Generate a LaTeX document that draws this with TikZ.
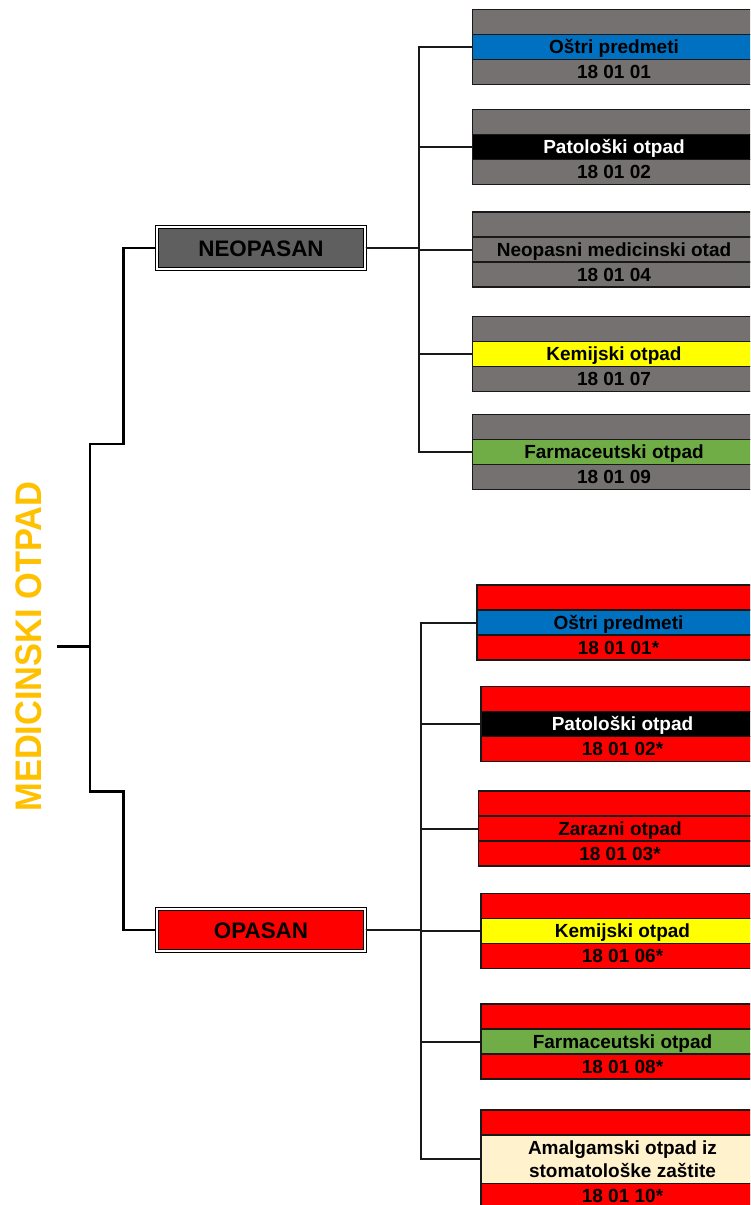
\documentclass[tikz,border=0pt]{standalone}
\usepackage{fontspec}
\setmainfont{Liberation Sans}
\usepackage{tikz}
\usetikzlibrary{positioning}

\definecolor{neogray}{RGB}{118,113,113}
\definecolor{hubgray}{RGB}{95,95,95}
\definecolor{sharpblue}{RGB}{0,112,192}
\definecolor{chemyellow}{RGB}{255,255,0}
\definecolor{pharmgreen}{RGB}{112,173,71}
\definecolor{hazred}{RGB}{255,0,0}
\definecolor{amalgcream}{RGB}{255,242,204}
\definecolor{titleorange}{RGB}{255,192,0}

\begin{document}
\begin{tikzpicture}[x=0.5pt, y=-0.5pt,
    cellbase/.style={draw=black!90, line width=0.75pt, minimum width=141.5pt, minimum height=12.5pt,
        inner sep=0pt, outer sep=0pt, font=\fontsize{9.5}{11.5}\selectfont\bfseries},
    cell/.style={cellbase, text height=6.8pt, text depth=0pt},
    group/.style={draw=black, double=white, line width=0.6pt, double distance=0.9pt,
        minimum width=104pt, minimum height=21.25pt, inner sep=0pt,
        font=\fontsize{11.2}{12}\selectfont\bfseries, text height=8pt, text depth=0pt},
    trunk/.style={line width=1.25pt, black},
    link/.style={line width=1pt, black!90}]
\useasboundingbox (0,0) rectangle (750,1205);
\clip (0,0) rectangle (750,1205);

\node[font=\fontsize{18.5}{20}\selectfont\bfseries, text=titleorange, rotate=90, inner sep=0pt]
    (title) at (28.5,646.5) {\scalebox{0.93}[1]{MEDICINSKI OTPAD}};

\node[group, fill=hubgray] (neo) at (261,248) {NEOPASAN};
\node[group, fill=hazred] (opa) at (261,930) {OPASAN};

\foreach \name/\bg/\fg/\code/\ytop [count=\i] in {
    Oštri predmeti/sharpblue/black/18 01 01/9.5,
    Patološki otpad/black/white/18 01 02/109.5,
    Neopasni medicinski otad/neogray/black/18 01 04/212,
    Kemijski otpad/chemyellow/black/18 01 07/316.5,
    Farmaceutski otpad/pharmgreen/black/18 01 09/414.5
} {
    \node[cell, fill=neogray, anchor=north west] (ntop\i) at (472.5,\ytop) {};
    \node[cell, fill=\bg, text=\fg, below=0pt of ntop\i] (nmid\i) {\name};
    \node[cell, fill=neogray, below=0pt of nmid\i] (ncode\i) {\code};
}

\foreach \name/\bg/\fg/\code/\xleft/\ytop [count=\i] in {
    Oštri predmeti/sharpblue/black/18 01 01*/477/585,
    Patološki otpad/black/white/18 01 02*/481/686.5,
    Zarazni otpad/hazred/black/18 01 03*/478.5/791,
    Kemijski otpad/chemyellow/black/18 01 06*/481/893.5,
    Farmaceutski otpad/pharmgreen/black/18 01 08*/481/1004
} {
    \node[cell, fill=hazred, anchor=north west] (otop\i) at (\xleft,\ytop) {};
    \node[cell, fill=\bg, text=\fg, below=0pt of otop\i] (omid\i) {\name};
    \node[cell, fill=hazred, below=0pt of omid\i] (ocode\i) {\code};
}
\node[cell, fill=hazred, anchor=north west] (otop6) at (481,1110) {};
\node[cellbase, fill=amalgcream, minimum height=24.25pt, align=center, below=0pt of otop6]
    (omid6) {Amalgamski otpad iz\\stomatološke zaštite};
\node[cell, fill=hazred, below=0pt of omid6] (ocode6) {18 01 10*};

\coordinate (root) at (57,646.5);
\coordinate (fork) at (90,646.5);
\coordinate (bneo) at (90,444);
\coordinate (kneo) at (123.5,444);
\coordinate (bopa) at (90,791.5);
\coordinate (kopa) at (123.5,791.5);
\coordinate (neohub) at (418.5,248);
\coordinate (opahub) at (421,930);

\draw[trunk] (root) -- (fork);
\draw[trunk] (neo.west) -| (kneo) -- (bneo) -- (bopa) -- (kopa) |- (opa.west);

\foreach \i in {1,...,5}
    \draw[link] (neo.east) -- (neohub) |- (nmid\i.west);
\foreach \i in {1,...,6}
    \draw[link] (opa.east) -- (opahub) |- (omid\i.west);
\end{tikzpicture}
\end{document}
